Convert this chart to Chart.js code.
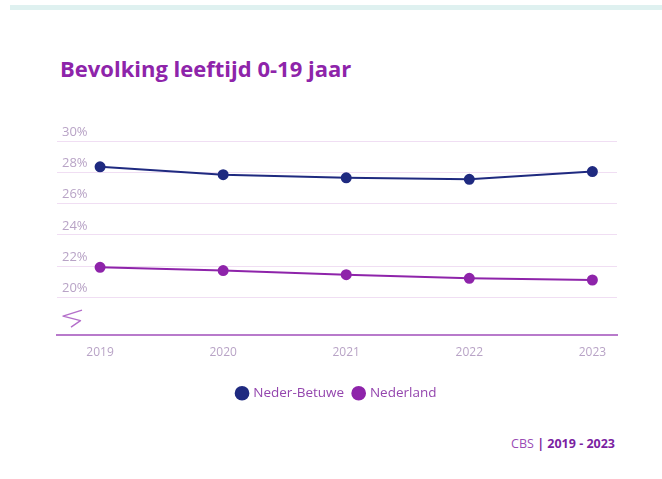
<!DOCTYPE html>
<html>
<head>
<meta charset="utf-8">
<script src="https://cdn.jsdelivr.net/npm/chart.js@4"></script>
<style>
  html, body { margin: 0; padding: 0; background: #fff; }
  body { width: 662px; height: 479px; position: relative; overflow: hidden; font-family: 'Open Sans', sans-serif; }
  .topbar { position: absolute; left: 10px; top: 5px; right: 0; height: 5px; background: #dff1f0; }
  .title { position: absolute; left: 60px; top: 53px; margin: 0; font: bold 22px 'Open Sans', sans-serif; color: #8e24aa; }
  .footer { position: absolute; right: 47px; top: 435px; font: 12.5px 'Open Sans', sans-serif; color: #9a4bb5; }
  .footer b { color: #7b1fa2; }
  #wrap { position: absolute; left: 0; top: 100px; width: 662px; height: 320px; }
</style>
</head>
<body>
<div class="topbar"></div>
<h1 class="title">Bevolking leeftijd 0-19 jaar</h1>
<div id="wrap"><canvas id="chart"></canvas></div>
<div class="footer">CBS <b>| 2019 - 2023</b></div>
<script>
const years = [2019, 2020, 2021, 2022, 2023];
const nederBetuwe = [28.35, 27.85, 27.65, 27.55, 28.05];
const nederland = [21.93, 21.72, 21.46, 21.23, 21.12];
const yTicks = [20, 22, 24, 26, 28, 30];

const NAVY = '#1f2a80';
const PURPLE = '#8e24aa';
const LABEL = '#b8a3c6';

// zig-zag axis break marker under the lowest gridline
const axisBreak = {
  id: 'axisBreak',
  afterDraw(chart) {
    const { ctx, chartArea } = chart;
    const x = chartArea.left, y = chartArea.bottom;
    ctx.save();
    ctx.strokeStyle = '#b46fca';
    ctx.lineWidth = 1.4;
    ctx.lineJoin = 'round';
    ctx.beginPath();
    ctx.moveTo(x + 25, y - 25);
    ctx.lineTo(x + 6, y - 19);
    ctx.lineTo(x + 23.5, y - 14.5);
    ctx.lineTo(x + 14, y - 8);
    ctx.stroke();
    ctx.restore();
  }
};

new Chart(document.getElementById('chart'), {
  type: 'line',
  data: {
    datasets: [
      {
        label: 'Neder-Betuwe',
        data: years.map((yr, i) => ({ x: yr, y: nederBetuwe[i] })),
        borderColor: NAVY, backgroundColor: NAVY,
        borderWidth: 2, pointRadius: 4.5, pointHoverRadius: 4.5, tension: 0,
      },
      {
        label: 'Nederland',
        data: years.map((yr, i) => ({ x: yr, y: nederland[i] })),
        borderColor: PURPLE, backgroundColor: PURPLE,
        borderWidth: 2, pointRadius: 4.5, pointHoverRadius: 4.5, tension: 0,
      },
    ],
  },
  options: {
    responsive: true,
    maintainAspectRatio: false,
    animation: false,
    layout: { padding: { left: 47, right: 45, top: 41, bottom: 10 } },
    plugins: {
      tooltip: { enabled: false },
      legend: {
        position: 'bottom',
        fullSize: false,
        labels: {
          usePointStyle: true, pointStyle: 'circle',
          boxWidth: 9, boxHeight: 9, padding: 10,
          color: '#9446ae', font: { family: 'Open Sans', size: 13.5 },
        },
      },
    },
    scales: {
      x: {
        type: 'linear',
        min: 2018.65, max: 2023.2,
        afterBuildTicks: s => { s.ticks = years.map(v => ({ value: v })); },
        afterFit: s => { s.height += 7; },
        grid: { display: false, drawTicks: false },
        border: { display: true, color: '#b87acb', width: 2 },
        ticks: { padding: 10, color: LABEL, font: { family: 'Open Sans', size: 12 }, callback: v => String(v) },
      },
      y: {
        min: 17.6, max: 30,
        afterBuildTicks: s => { s.ticks = yTicks.map(v => ({ value: v })); },
        grid: { color: '#f0def3', lineWidth: 1, drawTicks: false },
        border: { display: false },
        ticks: {
          mirror: true, padding: 5, labelOffset: -9,
          color: LABEL, font: { family: 'Open Sans', size: 13 },
          callback: v => v + '%',
        },
      },
    },
  },
  plugins: [axisBreak],
});
</script>
</body>
</html>
